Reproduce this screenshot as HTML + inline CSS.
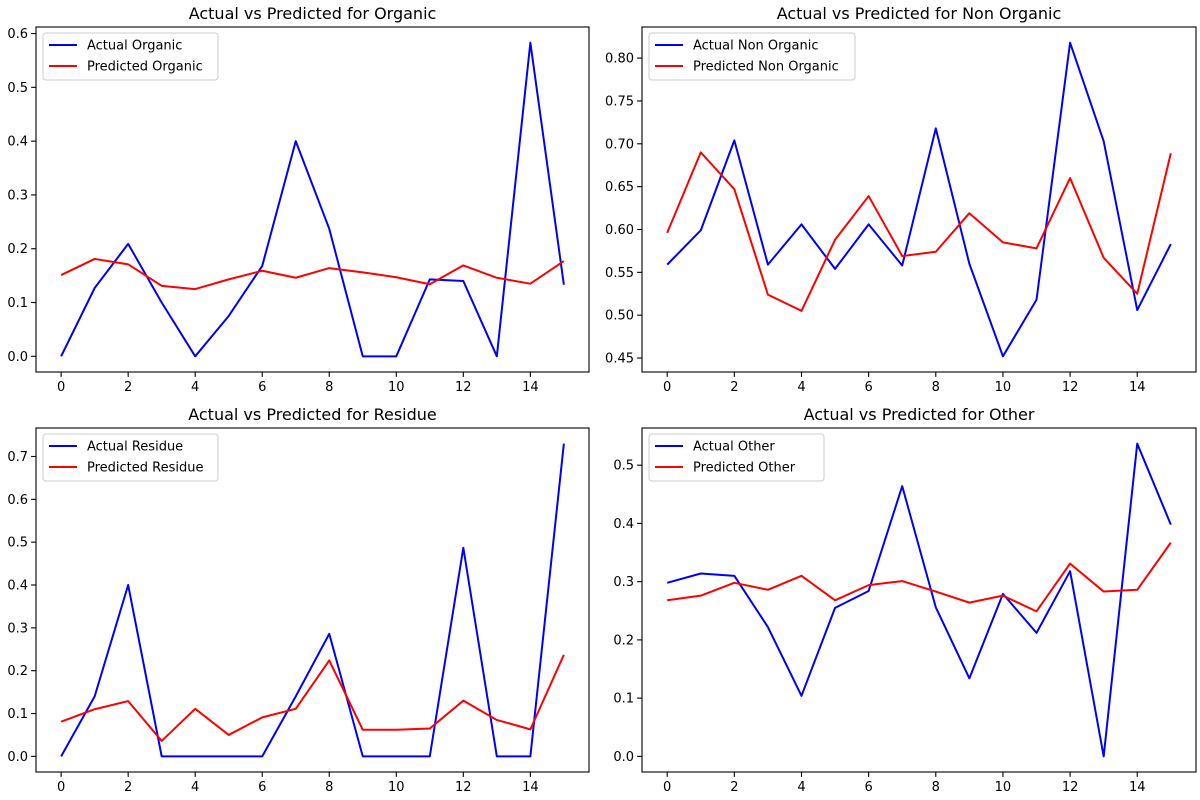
<!DOCTYPE html>
<html><head><meta charset="utf-8"><style>body{margin:0;background:#fff}svg{display:block;font-family:"DejaVu Sans","Liberation Sans",sans-serif}</style></head>
<body>
<svg id="fig" width="1200" height="800"></svg>
<script>
const xCats=[0,1,2,3,4,5,6,7,8,9,10,11,12,13,14,15];
const xTicks=[0,2,4,6,8,10,12,14];
const organicActual=[0,0.127,0.209,0.1,0,0.075,0.168,0.4,0.237,0,0,0.143,0.14,0,0.583,0.133];
const organicPred=[0.151,0.181,0.171,0.131,0.125,0.143,0.159,0.146,0.164,0.156,0.147,0.134,0.169,0.146,0.135,0.177];
const nonOrgActual=[0.559,0.599,0.704,0.559,0.606,0.554,0.606,0.558,0.718,0.56,0.452,0.518,0.818,0.703,0.506,0.583];
const nonOrgPred=[0.596,0.690,0.647,0.524,0.505,0.588,0.639,0.569,0.574,0.619,0.585,0.578,0.660,0.567,0.525,0.689];
const residueActual=[0,0.14,0.4,0,0,0,0,0.14,0.286,0,0,0,0.487,0,0,0.73];
const residuePred=[0.081,0.11,0.129,0.036,0.111,0.05,0.091,0.111,0.224,0.062,0.062,0.065,0.13,0.085,0.063,0.237];
const otherActual=[0.298,0.314,0.31,0.222,0.104,0.255,0.284,0.464,0.256,0.134,0.279,0.212,0.318,0,0.537,0.398];
const otherPred=[0.268,0.276,0.298,0.286,0.31,0.268,0.294,0.301,0.283,0.264,0.276,0.249,0.331,0.283,0.286,0.367];
const panelNames=["Organic","Non Organic","Residue","Other"];
const yStepList=[0.1,0.05,0.1,0.1];
const yDecList=[1,2,1,1];

const NS="http://www.w3.org/2000/svg";
const fig=document.getElementById('fig');
function mk(tag,attrs,parent){const e=document.createElementNS(NS,tag);for(const k in attrs)e.setAttribute(k,attrs[k]);(parent||fig).appendChild(e);return e;}
const boxes=[[36,27,589,372],[642,27,1196,372],[36,428,589,772],[642,428,1196,772]];
const actuals=[organicActual,nonOrgActual,residueActual,otherActual];
const preds=[organicPred,nonOrgPred,residuePred,otherPred];
const slugs=["organic","non-organic","residue","other"];

for(let p=0;p<4;p++){
  const [L,T,R,B]=boxes[p];
  const g=mk('g',{});
  
  
  const all=actuals[p].concat(preds[p]);
  let mn=Math.min(...all),mx=Math.max(...all),rg=mx-mn||1;
  const y0=mn-0.05*rg,y1=mx+0.05*rg;
  const x0=-0.75,x1=15.75;
  const sx=v=>L+(v-x0)/(x1-x0)*(R-L);
  const sy=v=>B-(v-y0)/(y1-y0)*(B-T);
  const t=mk('text',{x:(L+R)/2,y:T-8,'text-anchor':'middle','font-size':16,fill:'#000'},g);
  t.textContent='Actual vs Predicted for '+panelNames[p];
  
  
  xTicks.forEach(v=>{
    const x=sx(v);
    mk('line',{x1:x,x2:x,y1:B,y2:B+4.9,stroke:'#000','stroke-width':1.1},g);
    const tl=mk('text',{x:x,y:B+19,'text-anchor':'middle','font-size':13,fill:'#000'},g);
    tl.textContent=v;
    
    
  });
  const st=yStepList[p];
  for(let v=Math.ceil(y0/st-1e-9)*st;v<=y1+1e-9;v+=st){
    const y=sy(v);
    mk('line',{x1:L-4.9,x2:L,y1:y,y2:y,stroke:'#000','stroke-width':1.1},g);
    const tl=mk('text',{x:L-8,y:y+4.5,'text-anchor':'end','font-size':13,fill:'#000'},g);
    tl.textContent=(Math.abs(v)<1e-9?0:v).toFixed(yDecList[p]);
    
    
  }
  const mkPath=(arr,col,name)=>{
    const d=arr.map((v,i)=>(i?'L':'M')+sx(xCats[i]).toFixed(2)+','+sy(v).toFixed(2)).join('');
    const pth=mk('path',{d:d,fill:'none',stroke:col,'stroke-width':2,'stroke-linejoin':'round'},g);
    
    
  };
  mkPath(actuals[p],'#0000ff','actual-line');
  mkPath(preds[p],'#ff0000','predicted-line');
  mk('rect',{x:L,y:T,width:R-L,height:B-T,fill:'none',stroke:'#000','stroke-width':1.1},g);
  const lw=p==1?206:175;
  const lg=mk('g',{},g);
  
  
  mk('rect',{x:L+7,y:T+6,width:lw,height:47,rx:3,fill:'#fff','fill-opacity':0.8,stroke:'#ccc','stroke-width':1},lg);
  [['Actual ','#0000ff'],['Predicted ','#ff0000']].forEach((e,i)=>{
    const yy=T+18+i*21;
    mk('line',{x1:L+13,x2:L+41,y1:yy,y2:yy,stroke:e[1],'stroke-width':2},lg);
    const tx=mk('text',{x:L+51,y:yy+4.5,'font-size':13,fill:'#000'},lg);
    tx.textContent=e[0]+panelNames[p];
    
    
  });
}
</script>
</body></html>
